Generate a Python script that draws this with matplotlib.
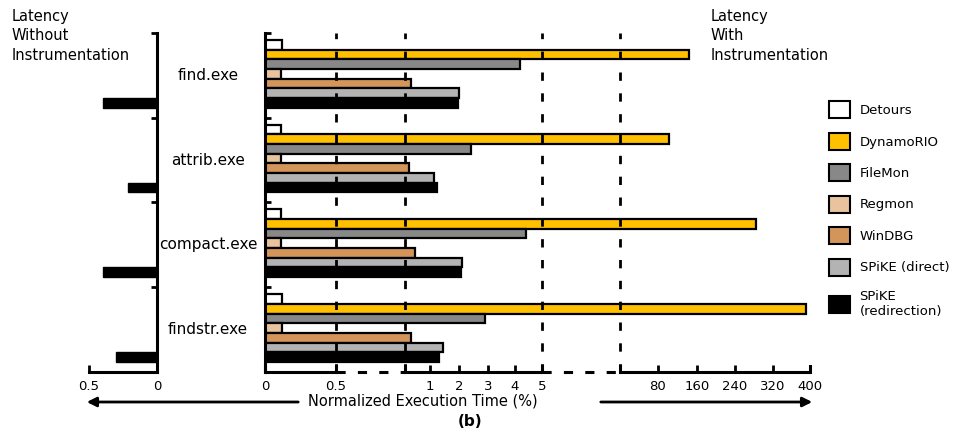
import numpy as np
import matplotlib
matplotlib.use("Agg")
import matplotlib.pyplot as plt
from matplotlib.patches import Patch
from matplotlib.transforms import blended_transform_factory

plt.rcParams['font.family'] = ['DejaVu Sans']

programs = ['find.exe', 'attrib.exe', 'compact.exe', 'findstr.exe']
tools = ['Detours', 'DynamoRIO', 'FileMon', 'Regmon', 'WinDBG',
         'SPiKE (direct)', 'SPiKE\n(redirection)']
colors = ['white', '#FFC000', '#888888', '#E8C39E', '#D4955A', '#B3B3B3', 'black']

# normalized execution time (%) with instrumentation, one row per tool
detours   = [0.12, 0.11, 0.11, 0.12]
dynamorio = [144, 103, 284, 391]
filemon   = [4.2, 2.4, 4.4, 2.9]
regmon    = [0.11, 0.11, 0.11, 0.12]
windbg    = [0.90, 0.89, 0.92, 0.90]
spike_dir = [2.0, 1.14, 2.1, 1.45]
spike_red = [1.97, 1.24, 2.07, 1.3]
series = [detours, dynamorio, filemon, regmon, windbg, spike_dir, spike_red]

# latency without instrumentation
baseline = [0.40, 0.21, 0.40, 0.30]

# broken axis: value -> position anchors
vals = [-1e3, 0, 0.5, 0.867, 1, 2, 3, 4, 5, 55.4, 80, 160, 240, 320, 400, 1e4]
pos = [265 - 144e3, 265, 336, 405, 430, 459, 488, 515, 542, 620, 658, 697, 735, 773, 810, 810 + 0.48 * 9600]

def fwd(v):
    return np.interp(v, vals, pos)

def inv(p):
    return np.interp(p, pos, vals)

xticks = [0, 0.5, 1, 2, 3, 4, 5, 80, 160, 240, 320, 400]
xticklabels = ['0', '0.5', '1', '2', '3', '4', '5', '80', '160', '240', '320', '400']
breaks = [0.5, 0.867, 5, 55.4]

W, H = 959, 436
fig = plt.figure(figsize=(W / 100, H / 100), dpi=100)
ax = fig.add_axes([265 / W, 1 - 372 / H, 545 / W, 339 / H])
axl = fig.add_axes([89 / W, 1 - 372 / H, 68 / W, 339 / H])

bh = 0.114
ng = len(programs)
y0 = np.arange(ng)
for j, (vals_j, c) in enumerate(zip(series, colors)):
    yy = y0 - 0.5 + 0.082 + bh * (j + 0.5)
    ax.barh(yy, vals_j, height=bh, color=c, edgecolor='black', linewidth=1.6, zorder=2)

ax.set_xscale('function', functions=(fwd, inv))
ax.set_xlim(0, 400)
ax.set_ylim(ng - 0.5, -0.5)

for b in breaks:
    ax.axvline(b, color='black', lw=2, ls=(0, (3, 4.5)), zorder=3)

for s in ['top', 'right', 'bottom']:
    ax.spines[s].set_visible(False)
ax.spines['left'].set_linewidth(2.2)
ax.set_xticks(xticks)
ax.set_xticklabels(xticklabels, fontsize=9.5)
ax.tick_params(axis='x', direction='in', length=5, width=2, pad=6)
ax.set_yticks([])
ax.set_yticks(np.arange(-0.5, ng, 1.0), minor=True)
ax.tick_params(axis='y', which='minor', direction='in', length=4, width=2)

# broken bottom axis
tb = blended_transform_factory(ax.transData, ax.transAxes)
solid = [(0, 0.5), (0.867, 5), (55.4, 400)]
dashed = [(0.5, 0.867), (5, 55.4)]
for a, b in solid:
    ax.plot([a, b], [0, 0], color='black', lw=2.2, transform=tb, clip_on=False, solid_capstyle='butt')
    ax.plot([a, a], [0, 0.018], color='black', lw=2.2, transform=tb, clip_on=False)
    ax.plot([b, b], [0, 0.018], color='black', lw=2.2, transform=tb, clip_on=False)
for a, b in dashed:
    ax.plot([a, b], [0, 0], color='black', lw=2.2, ls=(0, (3, 4)), transform=tb, clip_on=False)

lab_tr = blended_transform_factory(fig.transFigure, ax.transData)
for i, name in enumerate(programs):
    ax.text(208 / W, i, name, transform=lab_tr, ha='center', va='center', fontsize=11)

# left panel: baseline latency
yb = y0 - 0.5 + 0.082 + bh * 6.5
axl.barh(yb, baseline, height=bh, color='black', edgecolor='black', zorder=2)
axl.set_xlim(0.5, 0)
axl.set_ylim(ng - 0.5, -0.5)
for s in ['top', 'left']:
    axl.spines[s].set_visible(False)
axl.spines['right'].set_linewidth(2.2)
axl.spines['bottom'].set_linewidth(2.2)
axl.set_xticks([0.5, 0])
axl.set_xticklabels(['0.5', '0'], fontsize=9.5)
axl.tick_params(axis='x', direction='in', length=5, width=2, pad=6)
axl.yaxis.tick_right()
axl.set_yticks([])
axl.set_yticks(np.arange(-0.5, ng, 1.0), minor=True)
axl.tick_params(axis='y', which='minor', direction='in', length=4, width=2, right=True, left=False)

fig.text(12 / W, 1 - 9 / H, 'Latency\nWithout\nInstrumentation', ha='left', va='top',
         fontsize=10.5, linespacing=1.36)
fig.text(711 / W, 1 - 9 / H, 'Latency\nWith\nInstrumentation', ha='left', va='top',
         fontsize=10.5, linespacing=1.36)
fig.text(423 / W, 1 - 401 / H, 'Normalized Execution Time (%)', ha='center', va='center', fontsize=10.5)
fig.text(470 / W, 1 - 421 / H, '(b)', ha='center', va='center', fontsize=11, fontweight='bold')

arrow = dict(arrowstyle='-|>', color='black', lw=2, mutation_scale=14)
fig.add_artist(plt.Annotation('', xy=(84 / W, 1 - 402 / H), xytext=(301 / W, 1 - 402 / H),
                              xycoords='figure fraction', arrowprops=arrow))
fig.add_artist(plt.Annotation('', xy=(815 / W, 1 - 402 / H), xytext=(598 / W, 1 - 402 / H),
                              xycoords='figure fraction', arrowprops=arrow))

handles = [Patch(facecolor=c, edgecolor='black', linewidth=1.5) for c in colors]
fig.legend(handles, tools, loc='upper left', bbox_to_anchor=(824 / W, 1 - 96 / H),
           frameon=False, fontsize=9.5, handlelength=1.6, handleheight=1.6,
           handletextpad=0.7, labelspacing=1.1, borderaxespad=0)

fig.savefig('out.png', dpi=100)
